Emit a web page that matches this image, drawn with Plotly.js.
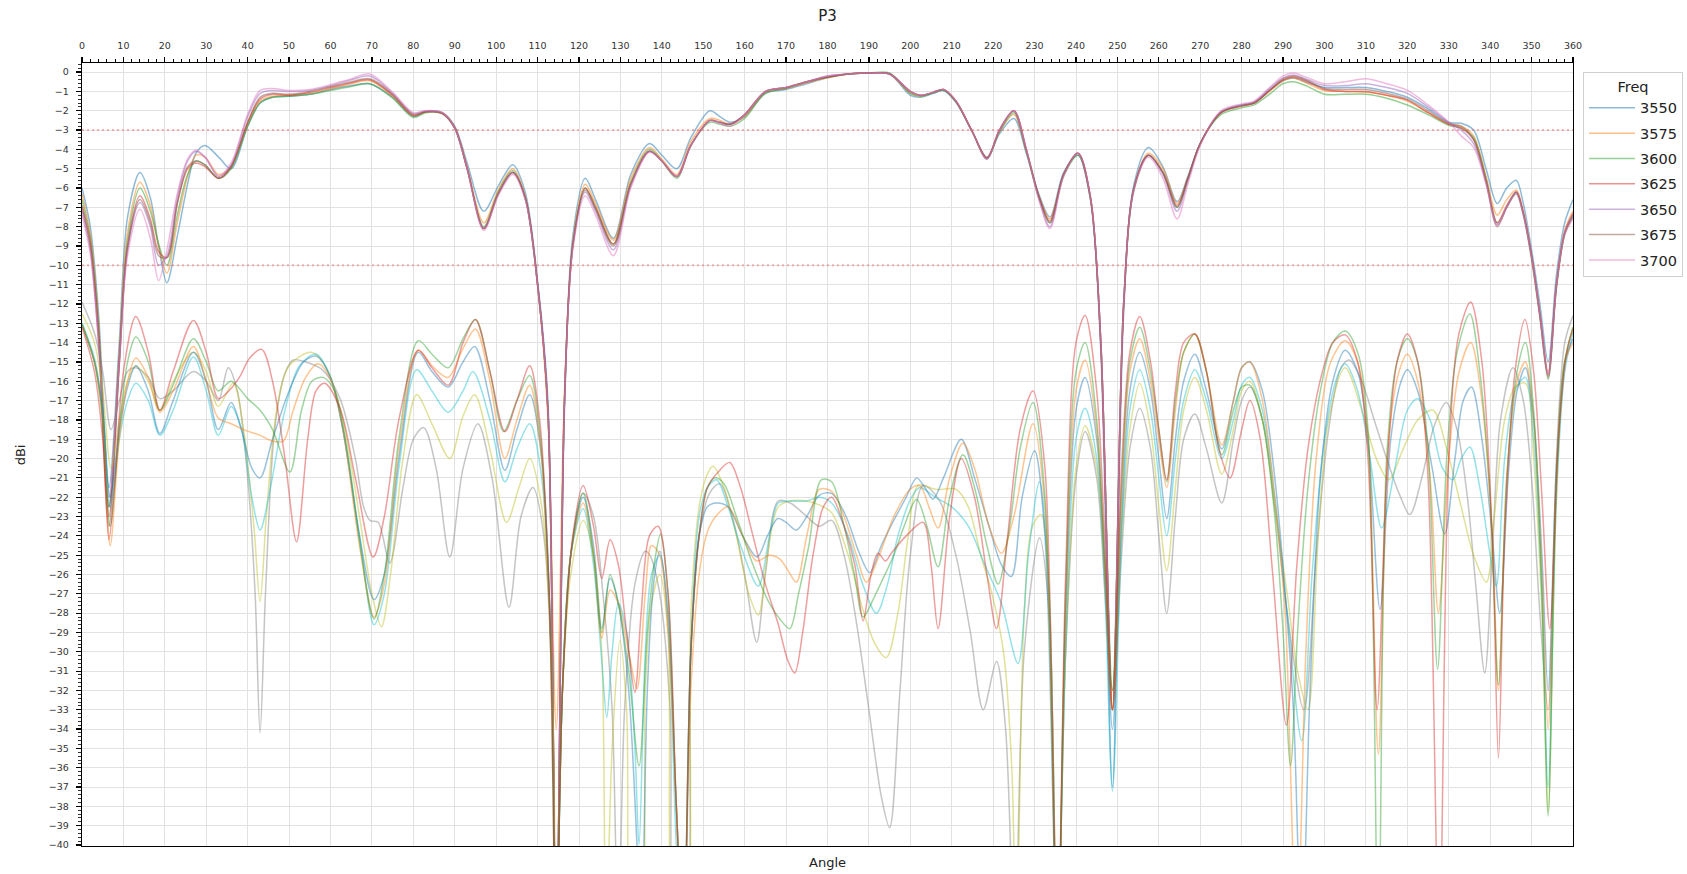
<!DOCTYPE html>
<html>
<head>
<meta charset="utf-8">
<script src="https://cdn.plot.ly/plotly-3.0.1.min.js"></script>
<style>html,body{margin:0;padding:0;background:#fff;}#chart{width:1687px;height:874px;}</style>
</head>
<body>
<div id="chart"></div>
<script>
// ---------- Co-pol (legend) series: shared angle grid ----------
const U_ANG = [
  0, 2, 4, 6.5, 9, 11, 14, 16.5, 18.5, 20.5,
  23, 25.5, 27.5, 29.7, 33, 36, 40, 43, 46, 50,
  55, 60, 65, 69.5, 75, 80, 83, 87, 90, 93,
  97, 100.5, 104, 107, 110, 112.5, 114.5, 116.5, 118.5, 121.5,
  124, 128.3, 132.5, 137, 140, 143.6, 147, 151.6, 154, 156.5,
  160, 165, 170, 175, 180, 185, 190, 195, 200, 202.5,
  205.5, 208, 211, 215, 218.5, 221.5, 225, 228, 231, 233.7,
  237, 240.5, 243.5, 246, 248.8, 251.5, 254, 257.5, 261, 264.4,
  267, 270, 275, 280, 283, 287, 290, 292.5, 296, 300,
  305, 310, 315, 320, 325, 330, 333, 336, 339, 341.7,
  344, 346.3, 348, 350, 352, 354, 356, 358, 360
];
const FREQS = ['3550', '3575', '3600', '3625', '3650', '3675', '3700'];
const U_3550 = [
  -6.0, -8.0, -12.5, -21.5, -14.0, -7.5, -5.2, -6.5, -9.0, -10.9,
  -8.5, -5.8, -4.2, -3.8, -4.4, -5.0, -2.8, -1.6, -1.3, -1.25,
  -1.15, -0.9, -0.7, -0.6, -1.3, -2.3, -2.05, -2.1, -2.8, -4.7,
  -7.2, -5.9, -4.8, -6.2, -10.8, -17.0, -45, -17.5, -8.5, -5.5,
  -6.6, -8.6, -5.3, -3.7, -4.3, -5.0, -3.4, -2.0, -2.3, -2.6,
  -2.3, -1.1, -0.9, -0.6, -0.3, -0.1, -0.05, -0.1, -1.2, -1.3,
  -1.1, -0.95, -1.55, -3.1, -4.4, -3.2, -2.4, -4.2, -6.3, -7.5,
  -5.2, -4.3, -6.6, -14.5, -37.0, -12.5, -5.8, -3.9, -4.9, -6.7,
  -5.4, -3.7, -2.1, -1.7, -1.6, -0.9, -0.45, -0.3, -0.55, -0.8,
  -0.8, -0.8, -1.0, -1.3, -1.9, -2.6, -2.65, -3.0, -5.0, -6.8,
  -6.0, -5.6, -6.8, -9.2, -12.0, -15.0, -10.5, -7.8, -6.6
];
const U_3575 = [
  -6.3, -8.4, -13.0, -22.5, -14.5, -8.3, -5.7, -6.9, -9.0, -10.4,
  -7.8, -5.4, -4.3, -4.4, -5.3, -4.9, -2.7, -1.5, -1.25, -1.2,
  -1.1, -0.85, -0.6, -0.45, -1.25, -2.25, -2.05, -2.1, -2.85, -4.9,
  -7.8, -6.1, -5.0, -6.4, -11.0, -18.0, -34.0, -16.5, -8.8, -5.8,
  -6.8, -8.7, -5.5, -3.9, -4.5, -5.3, -3.6, -2.4, -2.5, -2.7,
  -2.3, -1.05, -0.85, -0.55, -0.3, -0.1, -0.05, -0.1, -1.1, -1.25,
  -1.05, -0.9, -1.5, -3.1, -4.45, -3.1, -2.2, -4.1, -6.4, -7.6,
  -5.3, -4.2, -6.5, -14.2, -33.0, -12.2, -6.0, -4.2, -5.0, -6.8,
  -5.5, -3.7, -2.1, -1.75, -1.6, -0.95, -0.45, -0.3, -0.6, -0.95,
  -1.0, -1.05, -1.2, -1.5, -2.1, -2.7, -2.8, -3.3, -5.4, -7.4,
  -6.6, -6.1, -7.2, -9.5, -12.5, -15.5, -11.0, -8.2, -7.2
];
const U_3600 = [
  -6.6, -8.6, -13.2, -22.5, -14.8, -8.7, -6.0, -7.2, -8.9, -10.0,
  -7.4, -5.3, -4.6, -4.8, -5.5, -5.0, -2.8, -1.6, -1.3, -1.25,
  -1.15, -0.95, -0.75, -0.6, -1.35, -2.35, -2.1, -2.15, -2.9, -5.0,
  -8.0, -6.2, -5.1, -6.5, -11.0, -17.5, -45, -17.0, -9.0, -6.0,
  -7.0, -8.9, -5.7, -4.0, -4.6, -5.5, -3.8, -2.6, -2.7, -2.8,
  -2.4, -1.1, -0.85, -0.5, -0.25, -0.1, -0.05, -0.05, -1.1, -1.25,
  -1.1, -0.95, -1.55, -3.1, -4.5, -3.1, -2.1, -4.1, -6.5, -7.8,
  -5.4, -4.3, -6.6, -14.0, -32.0, -12.0, -6.1, -4.3, -5.2, -7.0,
  -5.6, -3.7, -2.2, -1.85, -1.7, -1.1, -0.6, -0.5, -0.75, -1.15,
  -1.15, -1.15, -1.35, -1.7, -2.2, -2.75, -2.9, -3.4, -5.5, -7.8,
  -7.0, -6.3, -7.4, -9.7, -12.7, -15.9, -11.2, -8.4, -7.4
];
const U_3625 = [
  -6.9, -8.8, -13.5, -23.0, -15.0, -9.0, -6.4, -7.6, -9.3, -9.6,
  -6.8, -5.0, -4.7, -4.9, -5.5, -4.9, -2.6, -1.4, -1.15, -1.2,
  -1.05, -0.8, -0.55, -0.4, -1.2, -2.25, -2.05, -2.15, -2.9, -5.0,
  -8.1, -6.3, -5.2, -6.5, -11.0, -17.5, -45, -17.0, -9.0, -6.0,
  -7.0, -8.9, -5.8, -4.1, -4.6, -5.4, -3.8, -2.5, -2.6, -2.7,
  -2.2, -1.0, -0.8, -0.5, -0.25, -0.1, -0.05, -0.1, -1.0, -1.2,
  -1.05, -0.9, -1.5, -3.1, -4.45, -3.0, -2.0, -4.0, -6.4, -7.7,
  -5.3, -4.2, -6.5, -14.0, -33.0, -12.0, -6.0, -4.3, -5.2, -6.9,
  -5.5, -3.7, -2.1, -1.75, -1.6, -0.9, -0.4, -0.25, -0.5, -0.9,
  -1.0, -1.0, -1.2, -1.45, -2.1, -2.7, -2.9, -3.5, -5.6, -7.8,
  -6.9, -6.2, -7.3, -9.5, -12.5, -15.7, -11.0, -8.3, -7.3
];
const U_3650 = [
  -7.2, -9.2, -14.0, -22.5, -15.0, -9.2, -6.75, -8.0, -10.0, -9.5,
  -6.5, -4.6, -4.1, -4.4, -5.4, -4.8, -2.3, -1.1, -0.95, -1.0,
  -0.95, -0.7, -0.4, -0.2, -1.1, -2.15, -2.0, -2.1, -2.9, -5.0,
  -8.1, -6.3, -5.2, -6.5, -11.0, -17.5, -45, -17.0, -9.0, -6.2,
  -7.2, -9.2, -5.9, -4.1, -4.6, -5.4, -3.8, -2.5, -2.6, -2.7,
  -2.2, -1.0, -0.8, -0.5, -0.2, -0.1, -0.05, -0.1, -1.0, -1.2,
  -1.05, -0.9, -1.5, -3.1, -4.5, -3.0, -2.0, -4.0, -6.5, -8.0,
  -5.3, -4.2, -6.5, -14.0, -33.0, -12.0, -6.0, -4.3, -5.3, -7.2,
  -5.6, -3.7, -2.05, -1.7, -1.55, -0.8, -0.3, -0.15, -0.4, -0.7,
  -0.7, -0.6, -0.8, -1.1, -1.8, -2.6, -3.0, -3.7, -5.7, -7.9,
  -7.0, -6.2, -7.3, -9.5, -12.5, -15.6, -11.0, -8.3, -7.4
];
const U_3675 = [
  -7.0, -9.0, -13.8, -23.5, -15.2, -9.1, -6.6, -7.8, -9.5, -9.6,
  -6.8, -4.9, -4.6, -4.8, -5.5, -4.9, -2.6, -1.3, -1.1, -1.15,
  -1.0, -0.75, -0.5, -0.35, -1.15, -2.2, -2.05, -2.15, -2.9, -5.0,
  -8.1, -6.3, -5.2, -6.5, -11.0, -17.5, -45, -17.0, -9.0, -6.1,
  -7.1, -9.0, -5.8, -4.1, -4.6, -5.4, -3.8, -2.5, -2.6, -2.7,
  -2.2, -1.0, -0.8, -0.5, -0.25, -0.1, -0.05, -0.1, -1.0, -1.2,
  -1.05, -0.9, -1.5, -3.1, -4.45, -3.0, -2.0, -4.0, -6.4, -7.8,
  -5.3, -4.2, -6.5, -14.0, -33.0, -12.0, -6.0, -4.3, -5.2, -7.0,
  -5.5, -3.7, -2.1, -1.75, -1.6, -0.9, -0.35, -0.2, -0.45, -0.85,
  -0.9, -0.9, -1.1, -1.4, -2.0, -2.65, -2.8, -3.5, -5.7, -8.0,
  -7.0, -6.2, -7.3, -9.6, -12.6, -15.8, -11.1, -8.4, -7.5
];
const U_3700 = [
  -7.4, -9.4, -14.0, -22.0, -15.0, -9.5, -7.1, -8.6, -10.8, -9.2,
  -6.3, -4.5, -4.05, -4.4, -5.4, -4.7, -2.2, -0.95, -0.85, -0.95,
  -0.9, -0.65, -0.35, -0.1, -1.05, -2.1, -2.0, -2.1, -2.9, -5.0,
  -8.2, -6.4, -5.3, -6.6, -11.0, -17.5, -45, -17.0, -9.2, -6.4,
  -7.4, -9.5, -6.0, -4.15, -4.6, -5.4, -3.8, -2.5, -2.65, -2.8,
  -2.2, -1.0, -0.8, -0.5, -0.2, -0.1, -0.05, -0.1, -1.0, -1.2,
  -1.05, -0.9, -1.5, -3.1, -4.5, -3.0, -2.0, -4.0, -6.6, -8.1,
  -5.4, -4.2, -6.5, -14.0, -33.0, -12.0, -6.1, -4.4, -5.5, -7.6,
  -5.8, -3.8, -2.0, -1.65, -1.5, -0.75, -0.2, -0.05, -0.3, -0.6,
  -0.5, -0.35, -0.6, -0.95, -1.7, -2.6, -3.3, -3.9, -5.8, -7.9,
  -7.0, -6.3, -7.4, -9.6, -12.6, -15.7, -11.1, -8.4, -7.6
];

// ---------- Cross-pol series (no legend): per-series angle/value arrays ----------
const XA_3550 = [0,3,5,7,9,11,13,16,18.8,22,26.9,30,32.9,35.3,37.5,40,41.8,43,44.3,46.5,49,51,54,58,62.3,66,68,69.5,71.5,74.3,77.5,80,82.5,85.5,88.8,92,95.6,99,103.1,106,108.9,111.5,113.5,114.5,116,118,121,123.5,126,128,129.5,131,133.5,136,137.1,139.5,142,143.6,145.2,147,149,151.5,154,157,160,162.9,165,168.1,171,175,178,181,184,187,190,193,195,197.5,200,203.1,207.1,211,214.5,217.6,220.8,223,225.2,227.5,231.2,233.5,235.5,237.5,240,242.2,245,247,248.8,251,253,255.4,258,260,261.9,264,266,268.7,271.5,275.2,278,280,282,285,288,291,295,298,301,304,306,309,312,315,318,320.6,323.5,326.5,329.4,332,334.5,336.5,338.7,340.5,342.5,345.5,348,350,352,354,356,358,360];
const XV_3550 = [-11.9,-13.5,-15.5,-18.5,-17.0,-15.5,-15.3,-15.8,-16.9,-16.5,-15.5,-16.0,-17.0,-15.3,-16.5,-21.0,-27.0,-34.2,-27.0,-18.5,-15.6,-14.9,-15.0,-15.4,-16.9,-20.0,-22.5,-23.2,-23.3,-25.4,-21.5,-19.0,-18.4,-20.5,-25.1,-20.5,-18.2,-21.0,-27.7,-23.0,-21.5,-24.0,-32.0,-45,-32,-25,-21.8,-23.0,-27.5,-33,-45,-33,-26.5,-24.8,-25.0,-27.0,-33,-45,-45,-30,-24,-21.8,-21.3,-23.0,-26.0,-29.5,-26.0,-22.2,-22.3,-23.0,-23.5,-23.2,-25.0,-28.5,-33.0,-37.5,-39.1,-32.0,-25.0,-21.4,-22.2,-25.0,-29.0,-33.0,-30.5,-34.0,-45,-30.0,-24.1,-28.0,-45,-30.0,-21.0,-18.6,-21.0,-27.0,-33.0,-25.0,-19.5,-17.4,-19.5,-24.0,-28.0,-23.0,-19.0,-17.7,-19.5,-22.3,-19.0,-17.0,-16.3,-18.0,-22.5,-28.0,-33.0,-25.0,-18.5,-15.3,-14.9,-16.0,-18.0,-20.0,-21.8,-22.9,-21.0,-18.3,-17.1,-18.5,-22.0,-26.5,-31.1,-25.0,-18.0,-15.3,-17.0,-21.0,-28.0,-33.0,-20.0,-14.0,-12.6];

const XA_3575 = [0,3,5,7,9,11,13,16,18.8,22,26.9,30,32.9,36.5,39,41.5,43,44.5,47,50,55.4,59,63,67,70,72.3,74.5,77.5,80.8,84.5,88.8,92,94.8,98.5,102.5,105.5,108.1,111,113.3,114.5,116,118,121,123.5,125.5,126.5,128,129.9,131.5,133.2,134.5,136,137.5,139.5,141.5,143.5,145.2,147,149,151,152.4,155,158,161,163.3,165.5,168.1,171,175,178,181,185,188.5,191.5,194.2,197,199.5,201.9,206.3,211.1,214,217,219.6,222.5,224.5,225.6,227.5,229.5,231.6,233.5,235.5,237.5,240,242.2,245,247,248.8,251,253,255.4,258,260,261.9,264,266,268.7,271.5,275.2,278,280,282,285,288,291,293.5,296,298.5,301,305,309,312.5,315.5,319,322.5,326.2,329.5,333,336,339.1,341,343.5,346,348.5,350.5,352.5,354,356,358,360];
const XV_3575 = [-12.5,-14.0,-16.5,-20.5,-18.0,-16.0,-15.2,-16.0,-17.5,-16.0,-14.5,-15.5,-17.3,-16.1,-18.5,-23.5,-27.4,-23.0,-17.5,-15.2,-14.5,-15.3,-18.0,-23.0,-27.0,-28.7,-26.0,-20.0,-16.7,-18.2,-20.0,-17.8,-16.7,-19.5,-23.3,-21.5,-20.0,-22.5,-30.0,-45,-32,-26,-23.2,-25.0,-30.0,-45,-35,-29.4,-33.0,-45,-45,-32,-27.5,-26.0,-29.0,-45,-45,-28,-22.5,-20.8,-20.4,-21.5,-24.0,-27.0,-28.1,-25.0,-22.5,-22.2,-22.2,-22.4,-22.8,-25.0,-27.8,-29.6,-30.3,-28.0,-24.0,-21.4,-21.6,-21.6,-22.5,-25.0,-26.9,-30.0,-36.0,-45,-28.0,-23.5,-22.9,-27.0,-45,-30.0,-20.5,-18.3,-20.5,-26.0,-33.0,-24.0,-18.5,-16.1,-18.5,-22.5,-25.8,-21.5,-17.5,-15.8,-17.5,-20.8,-18.5,-16.5,-16.0,-18.0,-22.5,-27.0,-31.0,-33.0,-24.0,-18.0,-15.3,-17.5,-20.0,-21.1,-19.5,-18.0,-17.5,-19.5,-22.5,-25.0,-26.4,-23.0,-18.0,-16.3,-16.1,-20.0,-28.0,-38.3,-22.0,-15.0,-13.2];

const XA_3600 = [0,3,5,6.8,9,11,13,16,18.8,22,26.9,30,32.9,36,38.5,41,43,45.5,49,52.5,56.6,60,63,67,70.5,73,76.5,80.8,84.5,88.4,92,94.4,98.5,102.1,105,108.1,111,113.3,114.5,116,118,121,123.5,125.5,126.7,128,129.5,131.5,133.5,134.5,136,137.5,139.5,141.5,143.5,145.2,147,149,151,153.2,156,159,163.3,166,168.1,171,175,178,181,185,188.5,191.8,194.5,197,200.3,202.3,206,210,214,218,222,226,228.5,231.2,233.5,235.5,237.5,240,242.2,245,247,248.8,251,253,255.4,258,260,261.9,264,266,268.7,271.5,275.2,278,280,282,285,288,291,294.5,297,300,303,305,308,311,313.8,317,320,322.5,325.5,328.5,331,333,335.1,337.5,340,341.5,343.5,346,348.5,350.5,352.5,354,356,358,360];
const XV_3600 = [-13.0,-14.8,-17.5,-22.5,-19.0,-17.0,-16.1,-17.0,-18.8,-17.5,-14.75,-16.5,-18.8,-17.3,-18.5,-22.0,-23.7,-21.5,-17.5,-15.2,-14.6,-15.8,-18.5,-24.0,-28.6,-27.0,-20.5,-15.4,-16.5,-17.6,-16.5,-15.5,-18.0,-21.2,-19.5,-18.2,-21.0,-30.0,-45,-32,-25,-22.6,-25.5,-30.5,-33.4,-30.0,-27.5,-29.0,-35.0,-40,-30,-26.0,-25.0,-28.5,-40,-45,-30,-23,-21.5,-21.1,-22.5,-24.5,-26.6,-24.0,-22.3,-22.2,-22.2,-22.0,-22.3,-24.0,-26.5,-28.0,-26.5,-24.0,-22.0,-21.5,-22.0,-22.5,-23.5,-25.5,-27.5,-30.6,-25.0,-21.2,-27.0,-45,-30,-19.0,-17.4,-20.0,-27.0,-37.2,-24.0,-17.5,-15.4,-17.5,-21.0,-24.0,-20.0,-17.0,-15.4,-17.0,-20.0,-18.0,-16.2,-15.8,-17.5,-22.0,-28.0,-34.6,-26.0,-19.0,-15.8,-15.1,-16.5,-20.0,-23.6,-20.5,-17.5,-16.9,-18.0,-20.5,-21.1,-20.0,-19.4,-21.5,-25.0,-26.6,-20.0,-16.5,-15.8,-19.0,-27.0,-37.0,-22.0,-15.5,-13.5];

const XA_3625 = [0,3,5,6.8,9,11,13,16,18.8,22,26.9,30,32.9,36,38.5,41,43,46,50,53.5,56.6,60,63,67,70.5,73,76.5,81.2,84.5,88.4,92,94.8,98.5,102.1,105,108.1,111,113.3,114.5,116,118,121,123.5,125.5,127.5,129.5,132,134,135,136.5,138,139.5,141.5,143.5,145.2,147,149,151,153.2,156,159.5,163,165.5,168,170,172.5,175,178,181,184.5,187.5,190.2,193,196,199,201.5,203.5,205.5,208,212.3,215.5,219,222,224.4,227,230,232.5,235.5,237.5,240,242.2,245,247,248.8,251,253,255.4,258,260,261.9,264,266,268.7,271.5,275.2,278,280,282,285,288,290.5,292.5,294.5,296.5,299,302,305,308,310.5,313.4,316,318.5,320,322.5,326,329,331.5,333.5,335.5,338,340.5,342.3,344.5,346.5,348.5,350.5,352.5,354,356,358,360];
const XV_3625 = [-13.1,-15.0,-17.5,-22.0,-18.5,-16.3,-15.2,-16.5,-18.7,-17.0,-14.5,-16.0,-18.5,-17.1,-18.5,-20.5,-21.0,-19.0,-16.5,-15.0,-14.7,-15.8,-18.5,-24.0,-27.3,-26.0,-20.0,-14.5,-15.5,-16.3,-15.0,-14.2,-17.0,-20.6,-18.5,-16.7,-20.0,-30,-45,-32,-25,-22.0,-24.5,-28.8,-26.2,-27.5,-32,-40,-45,-32,-26.5,-24.8,-28,-38,-45,-30,-24,-22.5,-22.3,-22.5,-24.0,-25.1,-24.0,-23.1,-23.3,-23.7,-23.0,-21.9,-21.8,-23.0,-24.8,-25.9,-24.5,-23.2,-22.0,-21.0,-21.5,-22.1,-21.0,-19.0,-21.0,-23.5,-25.5,-26.1,-22.0,-19.6,-24.0,-45,-28,-17.5,-15.8,-19.0,-26.0,-34.0,-23.0,-16.5,-14.5,-16.5,-20.0,-23.1,-19.0,-16.0,-14.6,-16.5,-19.5,-17.0,-15.3,-15.0,-16.5,-21.0,-27.0,-33.0,-45,-32,-21.0,-16.0,-14.4,-15.5,-19.0,-27.8,-19.0,-16.0,-15.4,-16.5,-20.5,-23.9,-20.0,-17.0,-16.3,-19.0,-24.0,-28.0,-20.5,-16.5,-15.3,-18.0,-25.0,-32.0,-20.5,-15.0,-13.8];

const XA_3650 = [0,3,5,6.8,9,11,13,16,18.8,22,26.9,30,32.9,36,39,43,46,48.6,51,54,57,60,63,67,70.5,73,76.5,81.2,84.5,88.4,92,95,98.5,102.1,105,108.1,110.5,112.5,113.8,114.5,116,118,121,123.5,125.5,127.5,129.5,132,134,136,137.5,139.5,141.5,143.5,145.2,147,149,151,153,156,159.5,162.9,166,168.5,170.5,172.5,175,178,181,184,187,189.4,192.5,196,199.9,202.3,204.5,206.7,209.5,212.7,215.5,219,222,225,229.6,232.5,235.5,237.5,240,242.2,245,247,248.8,251,253,255.4,258,260,261.9,264,266,268.7,271.5,275.2,278,280,282,285,288,290.5,293.3,295.5,298,301.5,305,308,310.5,313,315.5,318,320,322.5,325.5,327.5,330,332.5,335.3,338,340.5,342,344,346.5,348.5,350.5,352.5,354,356,358,360];
const XV_3650 = [-13.1,-15.0,-18.0,-24.5,-19.0,-16.0,-14.8,-15.8,-17.6,-16.5,-14.2,-16.0,-17.9,-18.2,-18.5,-18.8,-19.1,-19.1,-17.5,-15.8,-15.1,-15.9,-18.5,-24.5,-28.2,-26.5,-19.5,-14.4,-15.2,-15.8,-14.3,-13.3,-16.0,-20.0,-18.0,-16.2,-19.0,-26.0,-34.0,-45,-32,-25,-22.3,-25.0,-29.3,-26.8,-27.5,-30.0,-31.9,-27.0,-24.5,-25.0,-29,-38,-45,-32,-26,-23.8,-23.0,-22.5,-24.0,-25.3,-25.0,-25.2,-25.8,-26.4,-24.0,-21.6,-21.7,-23.0,-25.0,-26.4,-25.0,-23.0,-21.6,-21.4,-22.5,-23.6,-21.0,-19.2,-20.5,-23.5,-24.9,-23.0,-18.2,-22.5,-45,-28,-16.5,-14.9,-18.5,-26.0,-33.0,-22.0,-15.5,-13.8,-16.0,-19.0,-21.5,-17.5,-14.5,-13.55,-15.5,-19.3,-17.0,-15.3,-15.0,-17.0,-22.0,-28.0,-45,-30.0,-20.0,-15.0,-13.9,-15.0,-19.0,-35.3,-19.0,-15.5,-14.6,-16.0,-21.0,-28.0,-20.0,-15.5,-14.0,-17.0,-24.0,-32.0,-21.0,-16.0,-15.0,-18.0,-26.0,-34.0,-21.0,-15.0,-14.0];

const XA_3675 = [0,3,5,6.8,9,11,13,16,18.8,22,26.9,30,32.9,36,40,43,46,50.2,53,55.5,58.2,61,64,67.5,70.5,73,76.5,81.2,84.5,88.4,92,95,98.5,101.8,105,108.1,110.5,112.8,114.5,116,118,121,123.5,125.5,127.5,129.5,132,134.5,136.5,138.5,139.7,141.5,143.5,145.2,147,149,151,152.8,155,158,162,166,168.5,170.9,173,175.5,178.5,181,184,186.5,188.6,191,193,196,198.5,201.5,204,206.7,209.5,212.7,215.5,218.5,221.2,224,226.5,229.6,232.5,235.5,237.5,240,242.2,245,247,248.8,251,253,255.4,258,260,261.9,264,266,268.7,271.5,275.2,278,280,282,285,288,290,291.8,293.5,296,299,302,305,308,310.5,313,315,317.5,320,322.5,325,327.3,329.5,332,335.1,337.5,340,342,344,346.5,348.5,350.5,352.5,354,356,358,360];
const XV_3675 = [-13.0,-15.0,-18.0,-23.5,-18.5,-15.0,-13.7,-15.0,-17.5,-16.2,-13.8,-15.0,-16.5,-16.0,-16.9,-17.5,-18.5,-20.7,-17.5,-16.0,-15.8,-16.5,-19.5,-25.0,-28.3,-26.0,-19.0,-13.9,-14.6,-15.3,-13.8,-12.8,-15.5,-18.6,-17.0,-15.7,-18.5,-27,-45,-32,-25,-21.8,-25.0,-29.0,-26.0,-27.5,-31.0,-35.9,-29.0,-25.0,-23.9,-27.0,-38,-45,-30,-24,-21.5,-21.0,-21.3,-23.0,-25.5,-27.5,-28.3,-28.8,-27.0,-24.5,-21.1,-21.2,-23.5,-26.0,-28.2,-27.3,-26.4,-25.0,-23.5,-22.1,-23.5,-25.6,-22.0,-19.8,-21.5,-24.5,-26.5,-23.5,-19.5,-17.1,-22.0,-45,-27,-15.5,-14.0,-18.0,-25.5,-32.0,-21.5,-15.0,-13.2,-15.5,-18.5,-21.2,-17.0,-14.5,-13.55,-15.5,-19.8,-17.5,-16.3,-16.2,-18.0,-23.0,-29.0,-35.9,-29.0,-21.5,-16.5,-14.0,-13.4,-14.5,-18.5,-45,-20.0,-15.0,-13.8,-15.0,-19.5,-30.9,-20.0,-14.5,-12.5,-15.5,-22.0,-31.7,-21.0,-15.5,-14.0,-17.5,-27.0,-38.5,-21.0,-15.0,-13.2];

const XA_3700 = [0,3,5,6.5,8,10,13,16,18.8,22,26.9,30,32.9,35,38,40.5,43.4,46,49,51.8,54.5,56.5,58.6,62.3,66,70.3,73,76.5,81.2,84.5,88.4,92,95,98.5,102.1,105,108.1,110.5,112.8,114.5,116,118.5,121,123.5,125.5,127.5,129.5,131.5,133.5,135,137,139.1,141.5,143.5,145.2,147,149,151,154,156.4,159,162,165,168,170.5,172.1,174,176.5,179,181,184,186.6,188.6,190.5,192.2,194,195.4,199,203.1,205,206.7,209.5,212.3,215.5,218.5,220.8,223.5,226.5,229.6,232.5,235.5,237.5,240,242.2,245,247,248.8,251,253,255.4,258,260,261.9,264,266,268.7,271.5,274.5,277.2,280,282,284.5,287.5,290.8,293.3,296,299.5,302,305,308,310.5,312.7,315,317.5,320,322.5,325,327.7,330,332.5,335.3,338,340.5,342,343.5,346,348.4,350.5,352.5,354.4,356.5,358.5,360];
const XV_3700 = [-13.2,-15.5,-19.0,-24.2,-21.0,-15.5,-12.65,-14.5,-17.5,-15.5,-12.85,-14.5,-16.9,-16.6,-15.8,-14.8,-14.35,-16.0,-20.0,-24.3,-19.0,-16.5,-16.1,-17.4,-21.0,-25.1,-23.0,-18.0,-14.4,-15.3,-16.2,-14.0,-12.8,-15.5,-18.6,-17.0,-15.2,-18.0,-27,-45,-32,-24,-21.4,-23.5,-26.2,-24.2,-25.5,-29.0,-32.1,-28.0,-24.0,-23.5,-27,-38,-45,-30,-24,-21.5,-20.6,-20.2,-21.5,-24.0,-26.5,-28.5,-30.5,-31.1,-29.0,-25.0,-22.5,-22.0,-23.5,-25.5,-28.4,-26.0,-24.9,-25.3,-24.9,-24.0,-23.3,-25.5,-28.8,-23.0,-20.0,-22.0,-26.0,-28.8,-24.0,-18.5,-16.5,-20.5,-45,-26,-14.0,-12.6,-16.5,-24.5,-33.0,-20.5,-14.5,-12.65,-15.0,-18.5,-21.1,-16.5,-14.0,-13.55,-15.5,-19.5,-21.0,-18.5,-17.0,-19.0,-26.0,-33.8,-25.6,-19.5,-15.5,-14.0,-13.6,-15.0,-20.0,-33.0,-21.0,-15.0,-13.55,-15.0,-21.0,-45,-20.0,-13.5,-11.9,-15.0,-24.0,-35.5,-24.0,-15.5,-12.8,-15.5,-22.0,-28.8,-19.0,-14.5,-13.3];

const THRESHOLDS = [-3, -10];

// ---------- Build ----------
const CO_COLORS = ['#1f77b4','#ff7f0e','#2ca02c','#d62728','#9467bd','#8c564b','#e377c2'];
const X_COLORS  = ['#7f7f7f','#bcbd22','#17becf','#1f77b4','#ff7f0e','#2ca02c','#d62728'];
const upper = [U_3550, U_3575, U_3600, U_3625, U_3650, U_3675, U_3700];
const xa = [XA_3550, XA_3575, XA_3600, XA_3625, XA_3650, XA_3675, XA_3700];
const xv = [XV_3550, XV_3575, XV_3600, XV_3625, XV_3650, XV_3675, XV_3700];

const traces = [];
FREQS.forEach((f, i) => {
  traces.push({
    x: U_ANG, y: upper[i], type: 'scatter', mode: 'lines', name: f,
    legendgroup: 'g' + i,
    line: {color: CO_COLORS[i], width: 1.5, shape: 'spline', smoothing: 0.9},
    opacity: 0.5, showlegend: true, hoverinfo: 'skip'
  });
});
FREQS.forEach((f, i) => {
  traces.push({
    x: xa[i], y: xv[i], type: 'scatter', mode: 'lines', name: f + ' x',
    line: {color: X_COLORS[i], width: 1.5, shape: 'spline', smoothing: 0.9},
    opacity: 0.45, showlegend: false, hoverinfo: 'skip'
  });
});

const shapes = THRESHOLDS.map(v => ({
  type: 'line', xref: 'paper', x0: 0, x1: 1, yref: 'y', y0: v, y1: v,
  line: {color: 'rgba(240,90,90,0.45)', width: 2, dash: '2px,3px'}, layer: 'above'
}));

const layout = {
  width: 1687, height: 874,
  margin: {l: 82, r: 114, t: 63, b: 28, pad: 0, autoexpand: false},
  paper_bgcolor: '#fff', plot_bgcolor: '#fff',
  font: {family: 'DejaVu Sans, sans-serif', color: '#222', size: 11},
  title: {text: 'P3', x: 0.5, xref: 'paper', y: 0.9817, yref: 'container', yanchor: 'middle',
          font: {size: 15, color: '#222'}},
  showlegend: true,
  legend: {x: 1.0067, xanchor: 'left', y: 0.9885, yanchor: 'top',
           bgcolor: '#fff', bordercolor: '#d0d0d0', borderwidth: 1,
           font: {size: 14.5, color: '#222'}, tracegroupgap: 3.5, itemwidth: 46,
           title: {text: 'Freq', side: 'top center', font: {size: 14.5, color: '#222'}}},
  xaxis: {
    side: 'top', range: [0, 360], tick0: 0, dtick: 10, autorange: false,
    ticks: 'outside', ticklen: 5, tickwidth: 1.2, tickcolor: '#000', ticklabelstandoff: 4,
    tickfont: {size: 9.5, color: '#333'},
    showline: true, mirror: true, linecolor: '#000', linewidth: 1.3,
    showgrid: true, gridcolor: '#e2e2e2', gridwidth: 1, zeroline: false,
    minor: {dtick: 2, ticklen: 3, tickcolor: '#000', tickwidth: 1, ticks: 'outside', showgrid: false}
  },
  yaxis: {
    range: [-40.05, 0.47], tick0: 0, dtick: 1, autorange: false,
    ticks: 'outside', ticklen: 5, tickwidth: 1.2, tickcolor: '#000', ticklabelstandoff: 5,
    tickfont: {size: 9.5, color: '#333'},
    showline: true, mirror: true, linecolor: '#000', linewidth: 1.3,
    showgrid: true, gridcolor: '#e2e2e2', gridwidth: 1, zeroline: false,
    minor: {dtick: 0.2, ticklen: 2.5, tickcolor: '#000', tickwidth: 0.8, ticks: 'outside', showgrid: false}
  },
  shapes: shapes,
  annotations: [
    {text: 'Angle', xref: 'paper', yref: 'paper', x: 0.5, y: -0.021, yanchor: 'middle',
     showarrow: false, font: {size: 13, color: '#222'}},
    {text: 'dBi', xref: 'paper', yref: 'paper', x: -0.041, y: 0.5, xanchor: 'center',
     textangle: -90, showarrow: false, font: {size: 13, color: '#222'}}
  ],
  hovermode: false
};

Plotly.newPlot('chart', traces, layout, {displayModeBar: false, staticPlot: true});
</script>
</body>
</html>
